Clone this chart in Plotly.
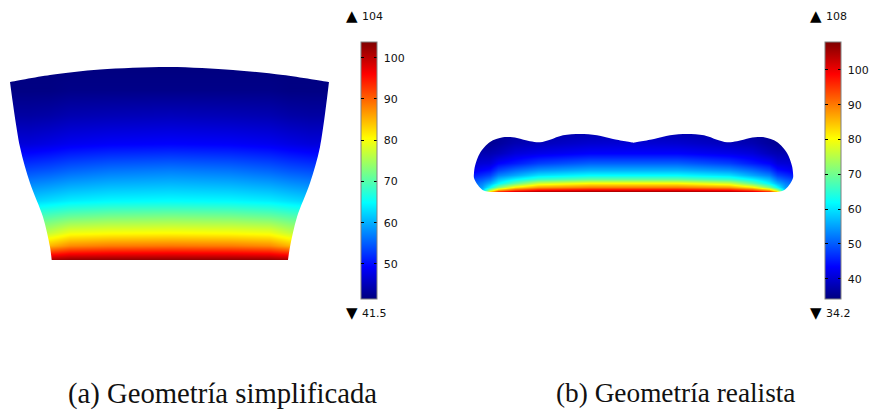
import plotly.graph_objects as go

# Panel (a): temperature field (half table, mirrored)
a_x_half = [10, 30, 50, 70, 110, 170]
a_y = [65, 90, 115, 143, 170, 200, 216, 232, 245, 252, 260]
a_T_half = [
    [41.5, 41.5, 41.5, 41.5, 41.5, 41.5],
    [41.8, 41.8, 41.8, 42.1, 42.1, 42.1],
    [43.7, 43.7, 44.0, 44.6, 44.9, 45.2],
    [47.1, 47.1, 47.7, 48.4, 49.0, 49.3],
    [54.0, 54.0, 54.6, 55.5, 56.5, 57.1],
    [62.1, 62.1, 63.0, 63.9, 64.6, 64.9],
    [69.5, 69.5, 70.2, 71.4, 72.3, 72.7],
    [75.8, 75.8, 77.0, 79.5, 80.1, 80.4],
    [83.9, 83.9, 85.1, 87.6, 88.5, 88.8],
    [91.3, 91.3, 93.2, 95.1, 95.7, 96.0],
    [100.7, 100.7, 102.6, 103.8, 103.8, 103.8],
]
# repeated points mark the sharp corners of the outline
a_outline_x = [10, 10, 50, 100, 170, 233, 283, 329, 329, 320, 310, 297, 290, 288, 288, 51.7, 51.7, 50, 43, 30, 20, 10, 10]
a_outline_y = [82, 82, 75, 69.5, 67, 70, 75, 82, 82, 147, 183, 217, 247, 260, 260, 260, 260, 247, 217, 183, 147, 82, 82]
a_min, a_max = 41.5, 103.8
a_ticks = [50, 60, 70, 80, 90, 100]

# Panel (b)
b_x_half = [474, 482, 490, 498, 515, 538, 590, 633.5]
b_y = [133, 143, 153, 163, 170, 175, 179, 183, 187, 190, 192]
b_T_half = [
    [35.7, 35.7, 35.7, 35.7, 36.4, 37.2, 37.9, 38.6],
    [35.7, 35.7, 35.7, 36.4, 37.9, 38.6, 40.1, 40.5],
    [37.2, 37.9, 37.9, 38.6, 40.8, 41.9, 43.4, 43.4],
    [40.1, 40.5, 40.8, 43.4, 45.3, 47.9, 50.4, 50.4],
    [42.3, 43.4, 44.5, 48.2, 51.2, 54.1, 56.3, 56.3],
    [45.3, 46.7, 48.2, 52.7, 55.6, 59.7, 61.9, 61.9],
    [48.2, 49.7, 51.9, 57.1, 61.5, 65.9, 68.9, 68.9],
    [50.4, 52.7, 56.3, 61.5, 68.9, 77.0, 80.7, 80.7],
    [52.7, 54.9, 62.2, 71.1, 81.4, 87.3, 89.6, 89.6],
    [54.9, 57.1, 74.8, 87.3, 94.7, 98.8, 100.6, 100.6],
    [56.3, 58.6, 87.3, 100.6, 105.8, 107.3, 108.0, 108.0],
]
b_outline_x = [474, 475, 480, 490, 503, 517, 530, 540, 550, 563, 580, 597, 613, 633.5, 633.5,
               654, 670, 687, 704, 717, 727, 737, 750, 764, 777, 787, 792, 793,
               793, 789, 784, 777, 777, 490, 490, 483, 478, 474, 474]
b_outline_y = [173, 166, 153, 142, 137.3, 138, 141.3, 142.3, 139.7, 135.3, 134, 135.3, 139, 142.7, 142.7,
               139, 135.3, 134, 135.3, 139.7, 142.3, 141.3, 138, 137.3, 142, 153, 166, 173,
               178, 185.3, 190.3, 192, 192, 192, 192, 190.3, 185.3, 178, 173]
b_min, b_max = 34.2, 108
b_ticks = [40, 50, 60, 70, 80, 90, 100]

captions = ["(a) Geometría simplificada", "(b) Geometría realista"]
caption_sizes = [28.7, 27.3]
jet = [[0, "#00007f"], [0.125, "#0000ff"], [0.375, "#00ffff"], [0.625, "#ffff00"], [0.875, "#ff0000"], [1, "#7f0000"]]
clear = [[0, "rgba(0,0,0,0)"], [1, "rgba(0,0,0,0)"]]
W, H = 871, 411
TICKFONT = dict(family="DejaVu Sans", size=11, color="#111")


def mirror_row(r):
    return r + r[-2::-1]


def panel(x_half, y, T_half, centre2, zmin, zmax, ticks, bar_x, ox, oy, rect, lo, hi, lo_y, hi_y):
    xs = x_half + [centre2 - v for v in x_half[-2::-1]]
    fig.add_trace(go.Heatmap(
        x=xs, y=y, z=[mirror_row(r) for r in T_half], zsmooth="best", zmin=zmin, zmax=zmax, colorscale=jet,
        hoverinfo="skip",
        colorbar=dict(x=bar_x / W, xanchor="left", y=1 - 42 / H, yanchor="top", len=257 / H, lenmode="fraction",
                      thickness=16, thicknessmode="pixels", xpad=0, ypad=0, outlinecolor="#808080", outlinewidth=1,
                      ticks="inside", ticklen=3, tickcolor="#000", tickwidth=1, tickvals=ticks,
                      ticktext=[f" {t}" for t in ticks], tickfont=TICKFONT),
    ))
    # second, transparent colorbar: only draws the ticks on the left edge of the bar
    fig.add_trace(go.Scatter(
        x=[None], y=[None], mode="markers", showlegend=False, hoverinfo="skip",
        marker=dict(color=[zmin], cmin=zmin, cmax=zmax, colorscale=clear,
                    colorbar=dict(x=(bar_x - 4) / W, xanchor="left", y=1 - 42 / H, yanchor="top", len=257 / H,
                                  lenmode="fraction", thickness=4, thicknessmode="pixels", xpad=0, ypad=0,
                                  outlinewidth=0, ticks="outside", ticklen=3, tickcolor="#000", tickwidth=1,
                                  tickvals=ticks, showticklabels=False)),
    ))
    # white surround with the geometry outline as a hole (wound against the outline)
    x0, x1, y0, y1 = rect
    fig.add_trace(go.Scatter(
        x=[x0, x0, x0, x1, x1, x1, x1, x0, x0, None] + ox,
        y=[y0, y0, y1, y1, y1, y0, y0, y0, y0, None] + oy,
        mode="lines", fill="toself", fillcolor="white",
        line=dict(width=0, shape="spline", smoothing=0.9, simplify=False), showlegend=False, hoverinfo="skip",
    ))
    for text, py, sym in ((lo, lo_y, "▼"), (hi, hi_y, "▲")):
        fig.add_annotation(x=bar_x - 17, y=py, text=f"{sym}", showarrow=False, xanchor="left", yanchor="middle",
                           font=dict(family="DejaVu Sans", size=15, color="#000"))
        fig.add_annotation(x=bar_x - 1, y=py, text=text, showarrow=False, xanchor="left", yanchor="middle",
                           font=TICKFONT)


fig = go.Figure()
panel(a_x_half, a_y, a_T_half, 339, a_min, a_max, a_ticks, 361, a_outline_x, a_outline_y, (-5, 345, 45, 275),
      "41.5", "104", 313, 16)
panel(b_x_half, b_y, b_T_half, 1267, b_min, b_max, b_ticks, 825, b_outline_x, b_outline_y, (460, 810, 120, 205),
      "34.2", "108", 313, 16)

for text, cx, size in zip(captions, (222, 676), caption_sizes):
    fig.add_annotation(x=cx, y=393, text=text, showarrow=False, xanchor="center", yanchor="middle",
                       font=dict(family="Liberation Serif", size=size, color="#111"))

fig.update_layout(
    width=W, height=H, autosize=False, paper_bgcolor="white", plot_bgcolor="white",
    margin=dict(l=0, r=0, t=0, b=0, autoexpand=False),
    showlegend=False,
    xaxis=dict(range=[0, W], visible=False, fixedrange=True),
    yaxis=dict(range=[H, 0], visible=False, fixedrange=True),
)
fig.write_html("out.html", config={"displayModeBar": False}, post_script="document.body.style.margin='0';")
